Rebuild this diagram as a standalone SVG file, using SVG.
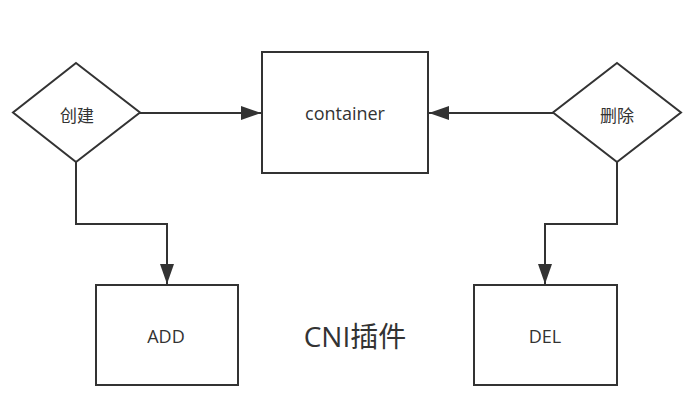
<svg xmlns="http://www.w3.org/2000/svg" width="690" height="412" viewBox="0 0 690 412">
<defs>
<marker id="arr" markerWidth="20" markerHeight="14" refX="20" refY="7" orient="auto" markerUnits="userSpaceOnUse">
<path d="M0,0 L20,7 L0,14 Z" fill="#333"/>
</marker>
<style>
.shape{fill:#fff;stroke:#333;stroke-width:2}
.lbl{font-family:"Open Sans","Noto Sans CJK SC",sans-serif;font-size:18px;fill:#333;text-anchor:middle;dominant-baseline:central}
.cjk{font-family:"Noto Sans CJK SC",sans-serif;font-size:17px}
.conn{fill:none;stroke:#333;stroke-width:2}
</style>
</defs>
<rect width="690" height="412" fill="#fff"/>
<g id="connectors">
<path class="conn" d="M140,113 L261,113" marker-end="url(#arr)"/>
<path class="conn" d="M553,113 L429,113" marker-end="url(#arr)"/>
<path class="conn" d="M76,162 L76,224 L167,224 L167,284" marker-end="url(#arr)"/>
<path class="conn" d="M617,162 L617,224 L545,224 L545,284" marker-end="url(#arr)"/>
</g>
<g id="create">
<polygon class="shape" points="76,63 140,112.5 76,162 13,112.5"/>
<text class="lbl cjk" x="77" y="114">创建</text>
</g>
<g id="container">
<rect class="shape" x="262" y="52" width="166" height="121"/>
<text class="lbl" x="345" y="113">container</text>
</g>
<g id="delete">
<polygon class="shape" points="617,63 681,112.5 617,162 553,112.5"/>
<text class="lbl cjk" x="617" y="114">删除</text>
</g>
<g id="add">
<rect class="shape" x="96" y="285" width="142" height="100"/>
<text class="lbl" x="166" y="336">ADD</text>
</g>
<g id="del">
<rect class="shape" x="474" y="285" width="143" height="100"/>
<text class="lbl" x="545" y="336">DEL</text>
</g>
<text x="355" y="336" font-family="'Open Sans','Noto Sans CJK SC',sans-serif" font-size="28" fill="#333" text-anchor="middle" dominant-baseline="central">CNI插件</text>
</svg>
